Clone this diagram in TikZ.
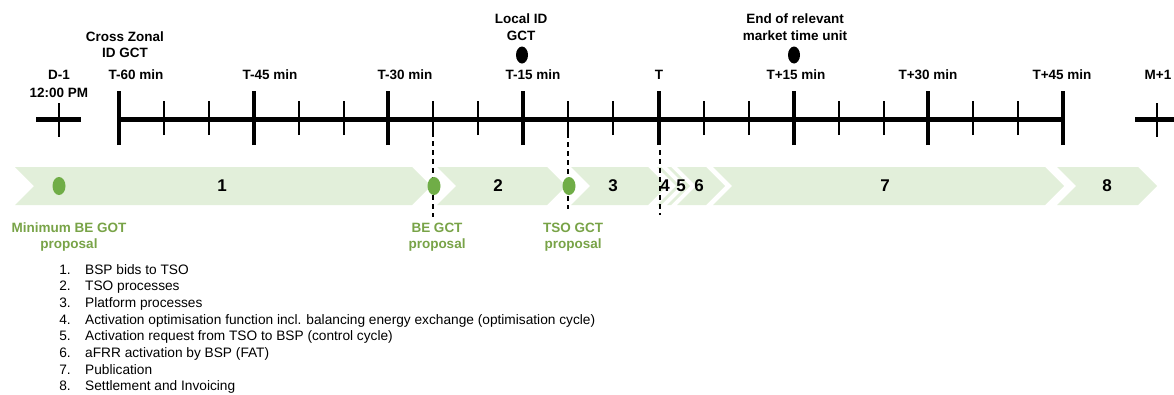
\documentclass[tikz,border=0pt]{standalone}
\usepackage{fontspec}
\setmainfont{Liberation Sans}
\usetikzlibrary{shapes.geometric}
\definecolor{bandfill}{HTML}{E2EFDA}
\definecolor{dotgreen}{HTML}{70AD47}
\definecolor{labgreen}{HTML}{78A347}
\newcommand\chevr[4]{\fill[bandfill] (#1,167) -- (#2,167) -- ++(19,19) -- (#2,205) -- (#1,205) -- ++(19,-19) -- cycle;
  \node[numlab] (c#4) at (#3,186) {#4};}
\begin{document}
\begin{tikzpicture}[x=1pt,y=-1pt,
  mainline/.style={line width=5pt},
  majortick/.style={line width=4.5pt},
  minortick/.style={line width=1.4pt},
  dashline/.style={line width=1.8pt, dash pattern=on 5pt off 4pt},
  timelab/.style={inner sep=0pt, anchor=base, font=\fontsize{13.5}{16}\selectfont\bfseries},
  numlab/.style={inner sep=0pt, font=\fontsize{17}{20}\selectfont\bfseries},
  greenlab/.style={inner sep=0pt, anchor=base, text=labgreen, font=\fontsize{13.5}{16}\selectfont\bfseries},
  listnum/.style={inner sep=0pt, anchor=base east, font=\fontsize{13.7}{15}\selectfont},
  listtxt/.style={inner sep=0pt, anchor=base west, font=\fontsize{13.7}{15}\selectfont},
  blackdot/.style={ellipse, fill=black, minimum width=12pt, minimum height=17pt, inner sep=0pt},
  greendot/.style={ellipse, fill=dotgreen, minimum width=13pt, minimum height=18pt, inner sep=0pt}
]
\useasboundingbox (0,0) rectangle (1174,394);

% chevron band
\chevr{15}{412}{222}{1}
\chevr{437}{547}{498}{2}
\chevr{571}{648}{613}{3}
\fill[bandfill] (657,167) -- (661,167) -- ++(19,19) -- (661,205) -- (657,205) -- ++(19,-19) -- cycle;
\fill[bandfill] (667,167) -- (671,167) -- ++(19,19) -- (671,205) -- (667,205) -- ++(19,-19) -- cycle;
\chevr{677}{706}{699}{6}
\chevr{713}{1045}{885}{7}
\chevr{1057}{1138}{1107}{8}
\node[numlab] (c4) at (665,186) {4};
\node[numlab] (c5) at (681,186) {5};

% timeline coordinates
\coordinate (tm60) at (119,119);
\coordinate (tm45) at (254,119);
\coordinate (tm30) at (388,119);
\coordinate (tm15) at (523,119);
\coordinate (t0)   at (659,119);
\coordinate (tp15) at (794,119);
\coordinate (tp30) at (928,119);
\coordinate (tp45) at (1063,119);

\draw[mainline] (tm60) -- (tp45);
\foreach \c in {tm60,tm45,tm30,tm15,t0,tp15,tp30,tp45}{
  \draw[majortick] ([yshift=-26pt]\c) -- ([yshift=28pt]\c);
}
\foreach \c in {tm60,tm45,tm30,tm15,t0,tp15,tp30}{
  \draw[minortick] ([xshift=45pt,yshift=-16pt]\c) -- ([xshift=45pt,yshift=18pt]\c);
  \draw[minortick] ([xshift=90pt,yshift=-16pt]\c) -- ([xshift=90pt,yshift=18pt]\c);
}
% D-1 cross
\coordinate (dm1) at (59,119);
\draw[mainline] (36,119) -- (81,119);
\draw[minortick] (59,103) -- (59,137);
% M+1 cross
\coordinate (mp1) at (1157,119);
\draw[mainline] (1135,119) -- (1174,119);
\draw[minortick] (1157,103) -- (1157,137);

% timeline labels
\node[timelab] (ld1) at (59,79) {D-1};
\node[timelab] (ld2) at (59,97) {12:00 PM};
\node[timelab] (l60) at (136,79) {T-60 min};
\node[timelab] (l45) at (270,79) {T-45 min};
\node[timelab] (l30) at (405,79) {T-30 min};
\node[timelab] (l15) at (533,79) {T-15 min};
\node[timelab] (l0)  at (659,79) {T};
\node[timelab] (lp15) at (796,79) {T+15 min};
\node[timelab] (lp30) at (928,79) {T+30 min};
\node[timelab] (lp45) at (1062,79) {T+45 min};
\node[timelab] (lm1) at (1158,79) {M+1};
\node[timelab] (cz1) at (125,41) {Cross Zonal};
\node[timelab] (cz2) at (125,57) {ID GCT};
\node[timelab] (lid1) at (521,23) {Local ID};
\node[timelab] (lid2) at (521,40) {GCT};
\node[timelab] (end1) at (795,23) {End of relevant};
\node[timelab] (end2) at (795,40) {market time unit};
\node[blackdot] (bd1) at (522,55) {};
\node[blackdot] (bd2) at (794,55) {};

% dashed markers
\coordinate (da1) at (433,123);
\coordinate (db1) at (433,217);
\coordinate (da2) at (568,124);
\coordinate (db2) at (568,209);
\coordinate (da3) at (660,150);
\coordinate (db3) at (660,215);
\draw[dashline] (da1) -- (db1);
\draw[dashline] (da2) -- (db2);
\draw[dashline] (da3) -- (db3);

\node[greendot] (g1) at (59,186) {};
\node[greendot] (g2) at (434,186) {};
\node[greendot] (g3) at (569,186) {};

\node[greenlab] (gl1a) at (69,232) {Minimum BE GOT};
\node[greenlab] (gl1b) at (69,248) {proposal};
\node[greenlab] (gl2a) at (437,232) {BE GCT};
\node[greenlab] (gl2b) at (437,248) {proposal};
\node[greenlab] (gl3a) at (573,232) {TSO GCT};
\node[greenlab] (gl3b) at (573,248) {proposal};

% legend list
\foreach \n/\t [count=\i from 0] in {1/BSP bids to TSO,2/TSO processes,3/Platform processes,
  4/Activation optimisation function incl. balancing energy exchange (optimisation cycle),
  5/Activation request from TSO to BSP (control cycle),6/aFRR activation by BSP (FAT),
  7/Publication,8/Settlement and Invoicing}{
  \node[listnum] (n\n) at (71,274+16.7*\i) {\n.};
  \node[listtxt] (t\n) at (85,274+16.7*\i) {\t};
}
\end{tikzpicture}
\end{document}
